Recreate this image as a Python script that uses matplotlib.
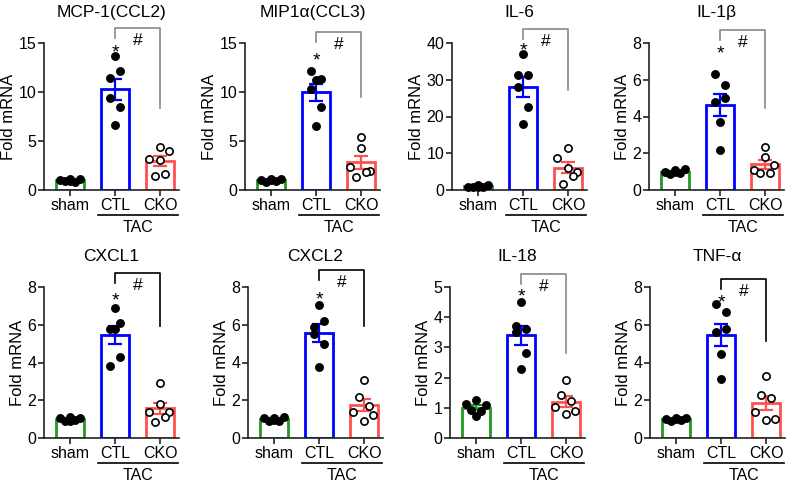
import numpy as np
import matplotlib
matplotlib.use('Agg')
import matplotlib.pyplot as plt

plt.rcParams['font.family'] = ['Liberation Sans', 'DejaVu Sans']

# panel titles and y scales
titles = ['MCP-1(CCL2)', 'MIP1α(CCL3)', 'IL-6', 'IL-1β',
          'CXCL1', 'CXCL2', 'IL-18', 'TNF-α']
y_max = [15, 15, 40, 8, 8, 8, 5, 8]
y_step = [5, 5, 10, 2, 2, 2, 1, 2]
groups = ['sham', 'CTL', 'CKO']

# individual animals (fold mRNA)
sham = [
    [1.05, 0.9, 1.1, 0.85, 1.1, 0.95],
    [1.0, 0.85, 1.1, 0.9, 1.15, 1.0],
    [0.8, 0.7, 1.3, 0.9, 1.4, 0.9],
    [1.0, 0.85, 1.1, 0.9, 1.15, 1.0],
    [1.05, 0.9, 1.1, 0.95, 1.08, 0.92],
    [1.05, 0.88, 1.08, 0.92, 1.1, 0.97],
    [1.12, 0.93, 1.25, 0.9, 1.08, 0.74],
    [1.02, 0.9, 1.05, 0.95, 1.06, 1.0],
]
ctl = [
    [13.7, 12.15, 11.4, 9.4, 8.5, 6.6],
    [11.2, 11.3, 12.1, 10.3, 8.5, 6.5],
    [37.1, 31.3, 31.3, 28.0, 22.5, 18.0],
    [3.7, 5.7, 6.3, 4.8, 5.0, 2.2],
    [6.9, 6.1, 5.8, 3.8, 4.3, 5.8],
    [7.07, 6.19, 5.88, 5.49, 4.96, 3.77],
    [4.5, 3.6, 3.7, 3.5, 2.8, 2.3],
    [4.46, 6.67, 7.1, 5.6, 5.77, 3.11],
]
cko = [
    [4.35, 4.0, 3.19, 3.08, 1.47, 1.61],
    [5.4, 1.9, 2.3, 4.3, 1.3, 1.8],
    [11.3, 5.0, 8.8, 6.0, 1.6, 3.8],
    [2.32, 1.34, 1.1, 1.82, 0.9, 0.9],
    [2.91, 1.4, 1.37, 1.8, 0.84, 1.1],
    [3.09, 1.23, 1.37, 0.88, 2.16, 1.68],
    [1.92, 0.9, 1.01, 0.79, 1.42, 1.21],
    [3.29, 0.99, 1.4, 0.95, 2.3, 2.12],
]

# layout / style
colors = ['#229922', '#0000ff', '#ff5050']
spread = [[-0.22, -0.11, 0, 0.11, 0.22, 0],
          [0, 0.11, -0.11, -0.11, 0.11, 0],
          [0, 0.2, -0.24, 0, -0.11, 0.11]]
bracket_top = [1.10, 1.075, 1.095, 1.09, 1.09, 1.11, 1.087, 1.05]
bracket_end = [0.56, 0.63, 0.68, 0.56, 0.74, 0.74, 0.56, 0.64]
bracket_col = ['#888888'] * 4 + ['black', 'black', '#888888', 'black']
star_y = [0.97, 0.91, 0.98, 0.96, 0.94, 0.95, 0.97, 0.93]

W, H = 800, 483
lefts = [[44, 245, 452, 649], [44, 248, 450, 650]]
tops = [43, 287]
bottoms = [190, 438]
ax_w = 135

fig = plt.figure(figsize=(8, 4.83), dpi=100)

for i in range(8):
    row, col = i // 4, i % 4
    h_px = bottoms[row] - tops[row]
    ax = fig.add_axes([lefts[row][col] / W, 1 - bottoms[row] / H,
                       ax_w / W, h_px / H])
    data = [sham[i], ctl[i], cko[i]]
    means = [np.mean(d) for d in data]
    sems = [np.std(d, ddof=1) / np.sqrt(len(d)) for d in data]

    ax.bar(range(3), means, width=0.63, color='white',
           edgecolor=colors, linewidth=2, zorder=2)
    for k in range(3):
        ax.errorbar(k, means[k], yerr=sems[k], color=colors[k],
                    capsize=5, elinewidth=1.6, capthick=1.6, zorder=3)
        face = 'white' if k == 2 else 'black'
        ax.plot(k + np.array(spread[k]), data[k], 'o', ms=5.2,
                mfc=face, mec='black', mew=1.2, zorder=4, clip_on=False)

    ax.set_xlim(-0.58, 2.42)
    ax.set_ylim(0, y_max[i])
    ax.set_yticks(np.arange(0, y_max[i] + 0.1, y_step[i]))
    ax.set_xticks(range(3), groups)
    for s in ['top', 'right']:
        ax.spines[s].set_visible(False)
    for s in ['left', 'bottom']:
        ax.spines[s].set_linewidth(1.2)
        ax.spines[s].set_color('#222222')
    ax.tick_params(axis='both', labelsize=11.5, length=4, width=1.2,
                   color='#222222')
    ax.tick_params(axis='x', pad=2)
    ax.tick_params(axis='y', pad=1.5)
    ax.set_ylabel('Fold mRNA', fontsize=12, labelpad=2)

    ax.annotate(titles[i], xy=(0.5, 1), xycoords='axes fraction',
                xytext=(0, 22), textcoords='offset points',
                ha='center', va='center', fontsize=12.5)

    # TAC grouping line
    tr = ax.get_xaxis_transform()
    ax.plot([0.61, 2.39], [-25 / h_px] * 2, transform=tr, clip_on=False,
            color='black', lw=1.2)
    ax.text(1.5, -38 / h_px, 'TAC', transform=tr, ha='center',
            va='center', fontsize=11.5)

    # significance marks
    top = bracket_top[i]
    ax.plot([1, 1, 2, 2], [top - 10 / h_px, top, top, bracket_end[i]],
            transform=tr, clip_on=False, color=bracket_col[i], lw=1.2)
    ax.annotate('#', xy=(1.5, top), xycoords=('data', 'axes fraction'),
                xytext=(0, -9), textcoords='offset points',
                ha='center', va='center', fontsize=12.5)
    ax.annotate('*', xy=(1, star_y[i]), xycoords=('data', 'axes fraction'),
                xytext=(0, -7), textcoords='offset points',
                ha='center', va='baseline', fontsize=14)

fig.savefig('out.png', dpi=100)
